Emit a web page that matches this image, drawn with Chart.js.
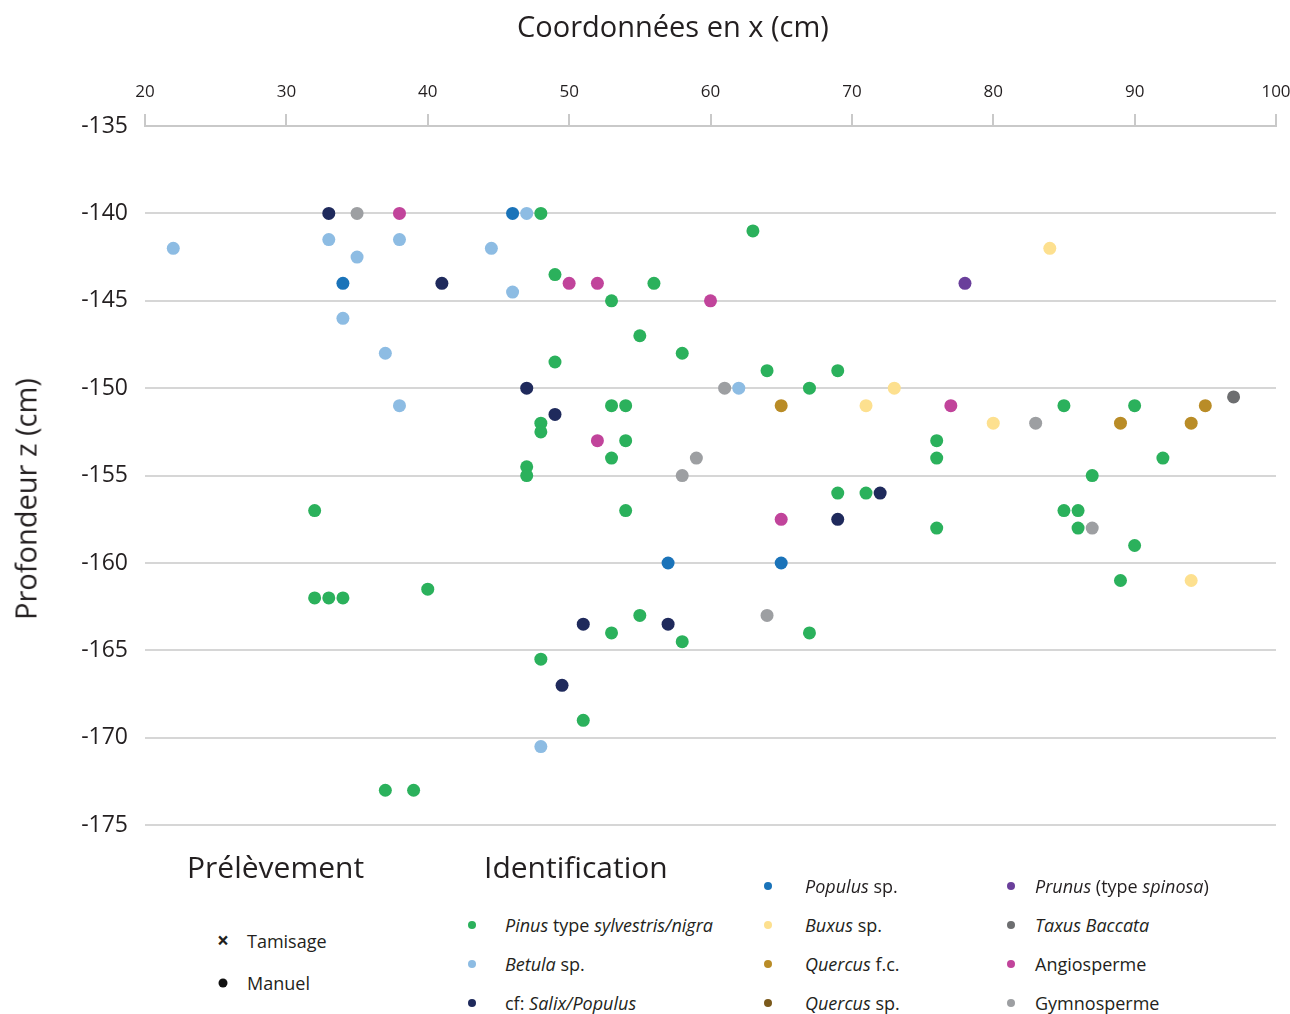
<!DOCTYPE html>
<html lang="fr">
<head>
<meta charset="utf-8">
<title>Coordonnées des charbons</title>
<script src="https://cdn.jsdelivr.net/npm/chart.js@4.4.1/dist/chart.umd.min.js"></script>
<style>
    body { margin: 0; background: #fff; font-family: "Open Sans", "Noto Sans", sans-serif; color: #231f20; }
    #page { position: relative; width: 1290px; height: 1014px; overflow: hidden; }
    #plot { position: absolute; left: 0; top: 0; width: 1290px; height: 856px; }
    .txt { position: absolute; white-space: nowrap; line-height: 1; }
    .title { font-size: 29px; }
    .ytitle { font-size: 29px; transform: translate(-50%, -50%) rotate(-90deg); }
    .head { font-size: 30px; }
    .item { font-size: 18px; transform: translateY(-50%); }
    .dot { position: absolute; width: 8px; height: 8px; border-radius: 50%; transform: translate(-50%, -50%); }
    .cross { position: absolute; font-size: 21px; font-weight: bold; transform: translate(-50%, -50%); line-height: 1; }
</style>
</head>
<body>
<div id="page">
    <div id="plot"><canvas id="chart"></canvas></div>

    <div class="txt title" style="left:517px; top:11px;">Coordonnées en x (cm)</div>
    <div class="txt ytitle" style="left:25px; top:499px;">Profondeur z (cm)</div>

    <!-- légende -->
    <div class="txt head" style="left:187px; top:852px;">Prélèvement</div>
    <div class="txt head" style="left:484px; top:852px;">Identification</div>

    <div class="cross" style="left:223px; top:940px;">×</div>
    <div class="txt item" style="left:247px; top:941px;">Tamisage</div>
    <div class="dot" style="left:223px; top:983px; width:9px; height:9px; background:#111;"></div>
    <div class="txt item" style="left:247px; top:983px;">Manuel</div>

    <div id="legend"></div>
</div>

<script>
    // coordonnées [x, z] en cm, par taxon
    const pinus = [
        [48, -140], [63, -141], [49, -143.5], [56, -144], [53, -145], [55, -147],
        [58, -148], [49, -148.5], [64, -149], [69, -149], [67, -150], [53, -151],
        [54, -151], [85, -151], [90, -151], [48, -152], [48, -152.5], [54, -153],
        [76, -153], [53, -154], [76, -154], [92, -154], [47, -154.5], [47, -155],
        [87, -155], [69, -156], [71, -156], [32, -157], [54, -157], [85, -157],
        [86, -157], [76, -158], [86, -158], [90, -159], [40, -161.5], [89, -161],
        [32, -162], [33, -162], [34, -162], [55, -163], [53, -164], [67, -164],
        [58, -164.5], [48, -165.5], [51, -169], [37, -173], [39, -173]
    ];
    const betula = [
        [47, -140], [33, -141.5], [38, -141.5], [22, -142], [44.5, -142], [35, -142.5],
        [46, -144.5], [34, -146], [37, -148], [38, -151], [62, -150], [48, -170.5]
    ];
    const salixPopulus = [
        [33, -140], [41, -144], [47, -150], [49, -151.5], [72, -156], [69, -157.5],
        [51, -163.5], [57, -163.5], [49.5, -167]
    ];
    const populus = [[46, -140], [34, -144], [57, -160], [65, -160]];
    const buxus = [[84, -142], [73, -150], [71, -151], [80, -152], [94, -161]];
    const quercusFc = [[65, -151], [95, -151], [89, -152], [94, -152]];
    const quercusSp = [];
    const prunus = [[78, -144]];
    const taxus = [[97, -150.5]];
    const angiosperme = [
        [38, -140], [50, -144], [52, -144], [60, -145], [77, -151], [52, -153], [65, -157.5]
    ];
    const gymnosperme = [
        [35, -140], [61, -150], [83, -152], [59, -154], [58, -155], [87, -158], [64, -163]
    ];

    const xTicks = [20, 30, 40, 50, 60, 70, 80, 90, 100];
    const zTicks = [-135, -140, -145, -150, -155, -160, -165, -170, -175];

    const taxa = [
        { label: "<i>Pinus</i> type <i>sylvestris/nigra</i>", data: pinus, color: "#2bb15c" },
        { label: "<i>Betula</i> sp.", data: betula, color: "#8dbce3" },
        { label: "cf: <i>Salix/Populus</i>", data: salixPopulus, color: "#1f2a5c" },
        { label: "<i>Populus</i> sp.", data: populus, color: "#1a73b9" },
        { label: "<i>Buxus</i> sp.", data: buxus, color: "#fde08f" },
        { label: "<i>Quercus</i> f.c.", data: quercusFc, color: "#b98c27" },
        { label: "<i>Quercus</i> sp.", data: quercusSp, color: "#7b5a1c" },
        { label: "<i>Prunus</i> (type <i>spinosa</i>)", data: prunus, color: "#6a3f9b" },
        { label: "<i>Taxus Baccata</i>", data: taxus, color: "#6d6e70" },
        { label: "Angiosperme", data: angiosperme, color: "#c1449b" },
        { label: "Gymnosperme", data: gymnosperme, color: "#9d9fa2" }
    ];

    // positions des entrées de légende (point, texte, ligne)
    const legendSlots = [
        [472, 505, 925], [472, 505, 964], [472, 505, 1003],
        [768, 805, 886], [768, 805, 925], [768, 805, 964], [768, 805, 1003],
        [1011, 1035, 886], [1011, 1035, 925], [1011, 1035, 964], [1011, 1035, 1003]
    ];
    const legend = document.getElementById("legend");
    taxa.forEach((t, i) => {
        const [dx, tx, y] = legendSlots[i];
        legend.insertAdjacentHTML("beforeend",
            `<div class="dot" style="left:${dx}px; top:${y}px; background:${t.color};"></div>` +
            `<div class="txt item" style="left:${tx}px; top:${y}px;">${t.label}</div>`);
    });

    new Chart(document.getElementById("chart"), {
        type: "scatter",
        data: {
            datasets: taxa.map(t => ({
                label: t.label.replace(/<[^>]+>/g, ""),
                data: t.data.map(([x, y]) => ({ x, y })),
                backgroundColor: t.color,
                borderWidth: 0,
                pointRadius: 6.5,
                pointHoverRadius: 6.5
            }))
        },
        options: {
            responsive: true,
            maintainAspectRatio: false,
            animation: false,
            layout: { padding: { left: 0, right: 0, top: 0, bottom: 8 } },
            plugins: {
                legend: { display: false },
                tooltip: { enabled: false }
            },
            scales: {
                x: {
                    type: "linear",
                    position: "top",
                    min: xTicks[0],
                    max: xTicks[xTicks.length - 1],
                    afterBuildTicks: s => { s.ticks = xTicks.map(v => ({ value: v })); },
                    afterFit: s => {
                        s.height = 126;
                        s.paddingLeft = 0;
                        s.paddingRight = 14;
                    },
                    ticks: {
                        padding: 12,
                        color: "#231f20",
                        font: { family: "Open Sans", size: 17 }
                    },
                    grid: {
                        drawOnChartArea: false,
                        tickLength: 12,
                        color: "#c9c9c9",
                        lineWidth: 2
                    },
                    border: { display: true, color: "#c9c9c9", width: 2 }
                },
                y: {
                    type: "linear",
                    min: zTicks[zTicks.length - 1],
                    max: zTicks[0],
                    afterBuildTicks: s => { s.ticks = zTicks.map(v => ({ value: v })); },
                    afterFit: s => { s.width = 145; },
                    ticks: {
                        padding: 17,
                        color: "#231f20",
                        font: { family: "Open Sans", size: 23 }
                    },
                    grid: {
                        drawTicks: false,
                        color: "#d6d6d6",
                        lineWidth: 2
                    },
                    border: { display: false }
                }
            }
        }
    });
</script>
</body>
</html>
